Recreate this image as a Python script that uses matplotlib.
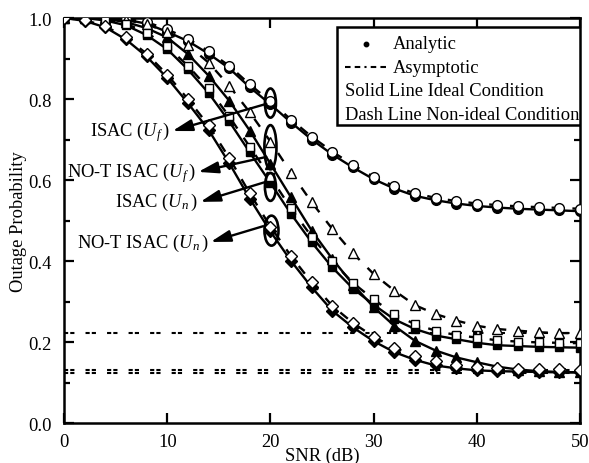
import numpy as np
import matplotlib
matplotlib.use('Agg')
import matplotlib.pyplot as plt
from matplotlib.patches import Ellipse, Rectangle
from matplotlib.lines import Line2D

plt.rcParams['font.family'] = ['Liberation Serif', 'DejaVu Serif']
plt.rcParams['mathtext.fontset'] = 'custom'
plt.rcParams['mathtext.rm'] = 'Liberation Serif'
plt.rcParams['mathtext.it'] = 'Liberation Serif:italic'
plt.rcParams['lines.scale_dashes'] = False

snr = np.arange(0, 51, 2)

# ideal condition (solid, filled markers)
isac_uf = [1.0, 1.0, 0.999, 0.996, 0.986, 0.966, 0.943, 0.912, 0.876, 0.829, 0.787, 0.742, 0.700,
           0.663, 0.631, 0.602, 0.579, 0.561, 0.550, 0.542, 0.536, 0.532, 0.529, 0.527, 0.525, 0.523]
notisac_uf = [1.0, 1.0, 0.998, 0.990, 0.975, 0.952, 0.911, 0.858, 0.796, 0.722, 0.640, 0.557, 0.475,
              0.405, 0.342, 0.286, 0.240, 0.203, 0.179, 0.162, 0.150, 0.139, 0.132, 0.128, 0.126, 0.125]
isac_un = [1.0, 1.0, 0.994, 0.982, 0.958, 0.923, 0.873, 0.815, 0.745, 0.668, 0.593, 0.516, 0.446,
           0.384, 0.332, 0.292, 0.256, 0.232, 0.216, 0.207, 0.198, 0.192, 0.190, 0.188, 0.187, 0.186]
notisac_un = [1.0, 0.993, 0.977, 0.947, 0.905, 0.852, 0.790, 0.724, 0.642, 0.554, 0.473, 0.400, 0.335,
              0.277, 0.236, 0.202, 0.175, 0.156, 0.142, 0.135, 0.130, 0.128, 0.127, 0.126, 0.125, 0.125]

# non-ideal condition (dashed, open markers)
isac_uf_ni = [1.0, 1.0, 1.0, 0.998, 0.990, 0.972, 0.949, 0.918, 0.882, 0.836, 0.794, 0.749, 0.707,
              0.670, 0.637, 0.608, 0.585, 0.567, 0.556, 0.548, 0.542, 0.538, 0.535, 0.533, 0.531, 0.529]
notisac_uf_ni = [1.0, 1.0, 0.999, 0.995, 0.985, 0.965, 0.933, 0.890, 0.833, 0.767, 0.695, 0.618, 0.545,
                 0.479, 0.419, 0.368, 0.327, 0.291, 0.269, 0.253, 0.240, 0.232, 0.228, 0.224, 0.222, 0.222]
isac_un_ni = [1.0, 1.0, 0.996, 0.986, 0.964, 0.930, 0.882, 0.826, 0.757, 0.682, 0.607, 0.530, 0.460,
              0.399, 0.346, 0.305, 0.269, 0.244, 0.228, 0.217, 0.211, 0.204, 0.201, 0.199, 0.198, 0.197]
notisac_un_ni = [1.0, 0.995, 0.980, 0.952, 0.912, 0.860, 0.800, 0.735, 0.655, 0.567, 0.485, 0.412, 0.347,
                 0.289, 0.247, 0.213, 0.186, 0.166, 0.152, 0.143, 0.138, 0.135, 0.134, 0.133, 0.133, 0.132]

# high-SNR asymptotes
asym_levels = [0.222, 0.132, 0.124]

# annotated groups at SNR = 20 dB
group_labels = [r'ISAC ($U_f\,$)', r'NO-T ISAC ($U_f\,$)', r'ISAC ($U_n\,$)', r'NO-T ISAC ($U_n\,$)']
ell_center = [(20.0, 0.790), (20.0, 0.681), (20.0, 0.583), (20.1, 0.475)]
ell_size = [(1.07, 0.072), (1.17, 0.109), (1.07, 0.069), (1.36, 0.074)]
arrow_tail = [(19.6, 0.788), (19.6, 0.657), (19.5, 0.595), (19.3, 0.486)]
arrow_head = [(10.5, 0.721), (13.0, 0.620), (13.2, 0.546), (14.2, 0.447)]

fig = plt.figure(figsize=(5.89, 4.64), dpi=100)
ax = fig.add_axes([0.1087, 0.0862, 0.8761, 0.8728])

for y in asym_levels:
    ax.axhline(y, color='black', lw=1.5, ls=(0, (3, 1.5, 3, 8)), zorder=1)

solid = [(isac_uf, 'o'), (notisac_uf, '^'), (isac_un, 's'), (notisac_un, 'D')]
dashed = [(isac_uf_ni, 'o'), (notisac_uf_ni, '^'), (isac_un_ni, 's'), (notisac_un_ni, 'D')]
msize = {'o': 7, '^': 7.5, 's': 6.3, 'D': 5.8}

for vals, m in solid:
    ax.plot(snr, vals, color='black', lw=1.7, marker=m, ms=msize[m],
            mfc='black', mec='black', zorder=3)
for vals, m in dashed:
    ax.plot(snr, vals, color='black', lw=1.7, ls=(0, (7, 8)), marker=m, ms=msize[m],
            mfc='white', mec='black', mew=1.0, zorder=4)

for lab, c, s, t, h in zip(group_labels, ell_center, ell_size, arrow_tail, arrow_head):
    ax.add_patch(Ellipse(c, s[0], s[1], fill=False, ec='black', lw=1.9, zorder=5))
    ax.annotate('', xy=h, xytext=t,
                arrowprops=dict(arrowstyle='-|>,head_length=1.2,head_width=0.35',
                                mutation_scale=10, color='black', lw=1.7,
                                shrinkA=0, shrinkB=0), zorder=6)
    ax.text(h[0] - 0.2, h[1], lab, ha='right', va='center', fontsize=13.3, zorder=6)

ax.set_xlim(0, 50)
ax.set_ylim(0, 1.0)
ax.set_xticks([0, 10, 20, 30, 40, 50])
ax.set_yticks([0.0, 0.2, 0.4, 0.6, 0.8, 1.0])
ax.set_yticks([0.1, 0.3, 0.5, 0.7, 0.9], minor=True)
ax.yaxis.set_major_formatter(matplotlib.ticker.FormatStrFormatter('%.1f'))
ax.tick_params(which='both', direction='in', top=True, right=True, width=1.6, labelsize=13.3)
ax.tick_params(which='major', length=7, pad=7)
ax.tick_params(axis='y', which='major', pad=9)
ax.tick_params(which='minor', length=4.5)
for sp in ax.spines.values():
    sp.set_linewidth(1.8)

ax.set_xlabel('SNR (dB)', fontsize=13.3, labelpad=-2)
ax.set_ylabel('Outage Probability', fontsize=13.3, labelpad=1)

# legend box
ax.add_patch(Rectangle((0.529, 0.736), 0.471, 0.242, transform=ax.transAxes,
                       fill=True, fc='white', ec='black', lw=1.8, zorder=7))
ax.add_line(Line2D([0.585], [0.936], transform=ax.transAxes, marker='o', ms=3.2,
                   color='black', ls='none', zorder=8))
ax.add_line(Line2D([0.5446, 0.628], [0.879, 0.879], transform=ax.transAxes, color='black',
                   lw=1.5, ls=(0, (4, 3, 4, 3, 1.5, 3)), zorder=8))
ax.text(0.6376, 0.936, 'Analytic', transform=ax.transAxes, va='center', fontsize=13.3, zorder=8)
ax.text(0.6376, 0.879, 'Asymptotic', transform=ax.transAxes, va='center', fontsize=13.3, zorder=8)
ax.text(0.5446, 0.822, 'Solid Line Ideal Condition', transform=ax.transAxes, va='center',
        fontsize=13.3, zorder=8)
ax.text(0.5446, 0.763, 'Dash Line Non-ideal Condition', transform=ax.transAxes, va='center',
        fontsize=13.3, zorder=8)

fig.savefig('out.png', dpi=100)
